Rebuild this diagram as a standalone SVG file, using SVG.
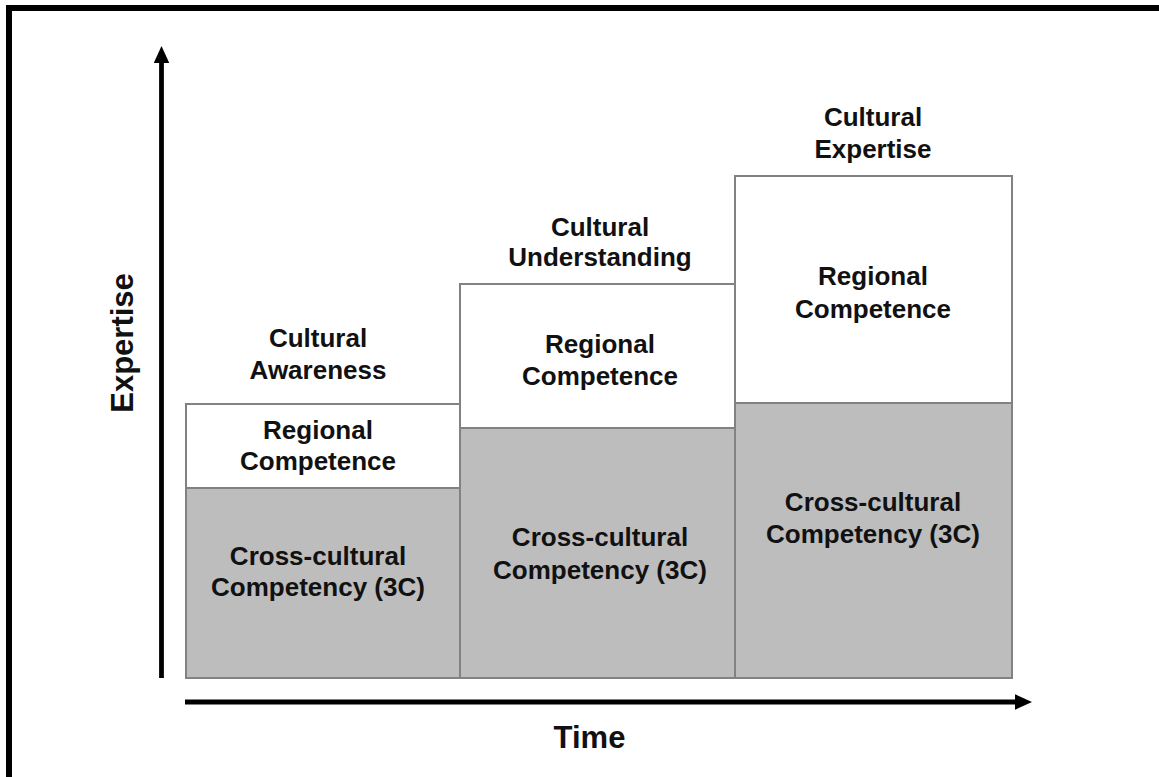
<svg xmlns="http://www.w3.org/2000/svg" width="1159" height="777" viewBox="0 0 1159 777">
<style>
.lbl{font-family:"Liberation Sans",Arial,Helvetica,sans-serif;font-weight:bold;font-size:26px;fill:#111;text-anchor:middle}
.axl{font-family:"Liberation Sans",Arial,Helvetica,sans-serif;font-weight:bold;font-size:31px;fill:#111;text-anchor:middle}
.top{fill:#ffffff;stroke:#828282;stroke-width:2}
.base{fill:#bdbdbd;stroke:#828282;stroke-width:2}
.axis{stroke:#000;stroke-width:4.8;fill:none}
</style>
<defs>
<marker id="ah" markerUnits="userSpaceOnUse" markerWidth="18" markerHeight="16" refX="1" refY="7.75" orient="auto">
<path d="M0,0 L17,7.75 L0,15.5 Z" fill="#000"/>
</marker>
</defs>
<rect width="1159" height="777" fill="#fff"/>
<path d="M9,777 V8 H1159" fill="none" stroke="#000" stroke-width="6"/>

<g id="connectors">
<line class="axis" x1="161.5" y1="678" x2="161.5" y2="62" marker-end="url(#ah)"/>
<line class="axis" x1="185" y1="702" x2="1016" y2="702" marker-end="url(#ah)"/>
</g>

<g id="stage1">
<rect class="top" x="186" y="404" width="274" height="84"/>
<rect class="base" x="186" y="488" width="274" height="190"/>
<text class="lbl" x="318" y="347">Cultural</text>
<text class="lbl" x="318" y="379">Awareness</text>
<text class="lbl" x="318" y="439">Regional</text>
<text class="lbl" x="318" y="470">Competence</text>
<text class="lbl" x="318" y="565">Cross-cultural</text>
<text class="lbl" x="318" y="596">Competency (3C)</text>
</g>

<g id="stage2">
<rect class="top" x="460" y="284" width="275" height="144"/>
<rect class="base" x="460" y="428" width="275" height="250"/>
<text class="lbl" x="600" y="236">Cultural</text>
<text class="lbl" x="600" y="266">Understanding</text>
<text class="lbl" x="600" y="353">Regional</text>
<text class="lbl" x="600" y="385">Competence</text>
<text class="lbl" x="600" y="546">Cross-cultural</text>
<text class="lbl" x="600" y="579">Competency (3C)</text>
</g>

<g id="stage3">
<rect class="top" x="735" y="176" width="277" height="227"/>
<rect class="base" x="735" y="403" width="277" height="275"/>
<text class="lbl" x="873" y="126">Cultural</text>
<text class="lbl" x="873" y="158">Expertise</text>
<text class="lbl" x="873" y="285">Regional</text>
<text class="lbl" x="873" y="318">Competence</text>
<text class="lbl" x="873" y="511">Cross-cultural</text>
<text class="lbl" x="873" y="543">Competency (3C)</text>
</g>

<g id="axis-labels">
<text class="axl" transform="translate(133,343) rotate(-90)">Expertise</text>
<text class="axl" x="589.5" y="748">Time</text>
</g>
</svg>
